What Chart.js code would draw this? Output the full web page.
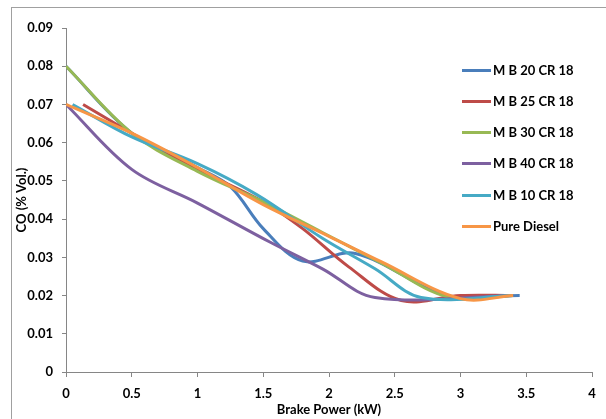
<!DOCTYPE html>
<html><head><meta charset="utf-8">
<script src="https://cdn.jsdelivr.net/npm/chart.js@4.4.0/dist/chart.umd.min.js"></script>
<style>
html,body{margin:0;padding:0;background:#fff;}
#wrap{position:relative;width:606px;height:419px;overflow:hidden;background:#fff;}
#frame{position:absolute;left:11px;top:7px;width:700px;height:500px;border:1px solid #a0a0a0;box-sizing:border-box;}
#c{position:absolute;left:0;top:0;}
#legend{position:absolute;left:0;top:0;width:606px;height:419px;font-family:Lato,"Liberation Sans",sans-serif;font-weight:bold;font-size:13px;color:#000;}
.it{position:absolute;left:462px;height:16px;white-space:nowrap;}
.it .ln{position:absolute;left:0;top:6.5px;width:29px;height:3px;}
.it .tx{position:absolute;left:31px;top:0;line-height:16px;}
</style></head>
<body><div id="wrap"><div id="frame"></div><canvas id="c" width="606" height="419"></canvas><div id="legend"></div></div>
<script>
// ---- data ----
const seriesNames = ["M B 20 CR 18","M B 25 CR 18","M B 30 CR 18","M B 40 CR 18","M B 10 CR 18","Pure Diesel"];
const seriesColors = ["#4A7EBB","#BE4B48","#98B954","#7D60A0","#46AAC5","#F79646"];
const mb20X = [0, 0.5, 1.0, 1.25, 1.5, 1.8, 2.2, 2.9, 3.45];
const mb20Y = [0.080, 0.0625, 0.0535, 0.0485, 0.0375, 0.029, 0.031, 0.020, 0.020];
const mb25X = [0.13, 0.6, 1.0, 1.5, 1.8, 2.15, 2.55, 3.0, 3.4];
const mb25Y = [0.070, 0.0605, 0.053, 0.0445, 0.0375, 0.0275, 0.0187, 0.020, 0.020];
const mb30X = [0, 0.5, 1.0, 1.5, 1.95, 2.4, 2.9, 3.4];
const mb30Y = [0.080, 0.0625, 0.0525, 0.0445, 0.0365, 0.0285, 0.0197, 0.020];
const mb40X = [0, 0.5, 1.0, 1.55, 1.95, 2.35, 3.4];
const mb40Y = [0.070, 0.053, 0.0442, 0.034, 0.027, 0.0195, 0.020];
const mb10X = [0.05, 0.5, 1.0, 1.45, 1.95, 2.35, 2.7, 3.4];
const mb10Y = [0.070, 0.0615, 0.0545, 0.0464, 0.035, 0.027, 0.0195, 0.020];
const dieselX = [0, 0.5, 1.0, 1.5, 2.0, 2.4, 3.0, 3.4];
const dieselY = [0.070, 0.0625, 0.0535, 0.0438, 0.0355, 0.0288, 0.0192, 0.020];
const xTicks = [0, 0.5, 1, 1.5, 2, 2.5, 3, 3.5, 4];
const yTicks = [0, 0.01, 0.02, 0.03, 0.04, 0.05, 0.06, 0.07, 0.08, 0.09];
const xTitle = "Brake Power (kW)";
const yTitle = "CO (% Vol.)";

const xs = [mb20X, mb25X, mb30X, mb40X, mb10X, dieselX];
const ys = [mb20Y, mb25Y, mb30Y, mb40Y, mb10Y, dieselY];

const FONT = {family: "Lato, 'Liberation Sans', sans-serif", weight: 'bold', size: 13};
const AX = '#868686';

const datasets = seriesNames.map((n, i) => ({
  label: n,
  data: xs[i].map((x, j) => ({x: x, y: ys[i][j]})),
  borderColor: seriesColors[i],
  backgroundColor: seriesColors[i],
  borderWidth: 3,
  pointRadius: 0,
  tension: 0.35,
  fill: false,
  order: seriesNames.length - i,
  borderCapStyle: 'butt'
}));

new Chart(document.getElementById('c'), {
  type: 'line',
  data: {datasets},
  options: {
    responsive: false,
    animation: false,
    layout: {padding: {left: 0, right: 14, top: 28, bottom: 0}},
    plugins: {legend: {display: false}, tooltip: {enabled: false}},
    scales: {
      x: {
        type: 'linear', min: 0, max: 4,
        afterBuildTicks: s => { s.ticks = xTicks.map(v => ({value: v})); },
        afterFit: s => { s.height = 47; },
        grid: {drawOnChartArea: false, drawTicks: true, tickLength: 5, color: AX},
        border: {color: AX, width: 1},
        ticks: {color: '#000', font: FONT, padding: 9, maxRotation: 0, autoSkip: false,
          callback: v => String(Number(v.toFixed(2)))},
        title: {display: true, text: xTitle, color: '#000', font: FONT, padding: {top: 0, bottom: 1}}
      },
      y: {
        type: 'linear', min: 0, max: 0.09,
        afterBuildTicks: s => { s.ticks = yTicks.map(v => ({value: v})); },
        afterFit: s => { s.width = 66; },
        grid: {drawOnChartArea: false, drawTicks: true, tickLength: 4, color: AX},
        border: {color: AX, width: 1},
        ticks: {color: '#000', font: FONT, padding: 9, autoSkip: false,
          callback: v => String(Number(v.toFixed(2)))},
        title: {display: true, text: yTitle, color: '#000', font: FONT, padding: {top: 14, bottom: 0}}
      }
    }
  }
});

// HTML legend
const legendTops = [70, 101, 132, 163, 195, 226];
const lg = document.getElementById('legend');
seriesNames.forEach((n, i) => {
  const d = document.createElement('div');
  d.className = 'it';
  d.style.top = (legendTops[i] - 8) + 'px';
  const l = document.createElement('span'); l.className = 'ln'; l.style.background = seriesColors[i];
  const t = document.createElement('span'); t.className = 'tx'; t.textContent = n;
  d.appendChild(l); d.appendChild(t); lg.appendChild(d);
});
</script></body></html>
